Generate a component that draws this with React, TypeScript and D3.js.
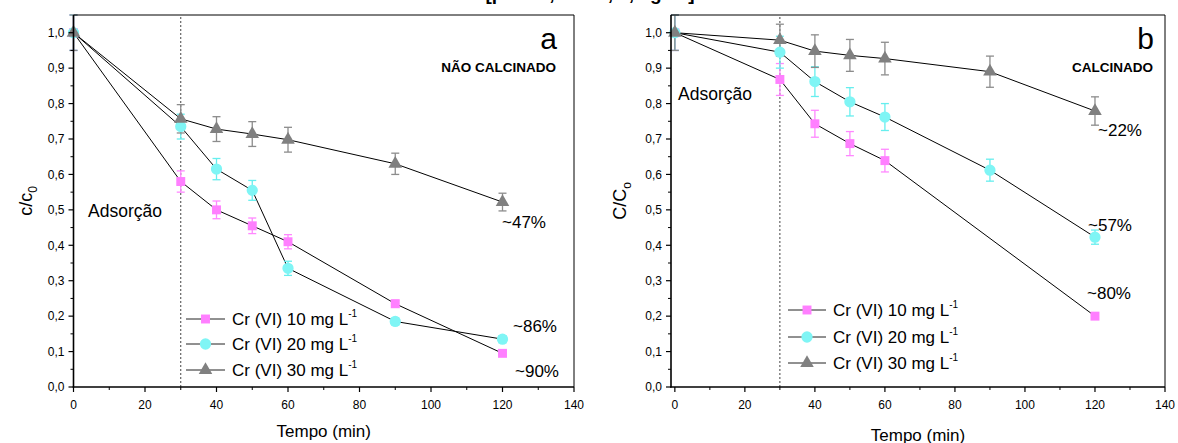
import React from "react";
import * as d3 from "d3";

// ---------- data ----------
const timesAll = [0, 30, 40, 50, 60, 90, 120];
const timesB10 = [0, 30, 40, 50, 60, 120];

// Panel a (NÃO CALCINADO)
const a10 = [1.0, 0.58, 0.5, 0.455, 0.41, 0.235, 0.095];
const a10Err = [0.05, 0.03, 0.025, 0.022, 0.02, 0.01, 0.008];
const a20 = [1.0, 0.735, 0.615, 0.555, 0.335, 0.185, 0.135];
const a20Err = [0.05, 0.035, 0.03, 0.028, 0.02, 0.01, 0.01];
const a30 = [1.0, 0.757, 0.728, 0.714, 0.698, 0.63, 0.522];
const a30Err = [0.05, 0.04, 0.035, 0.035, 0.035, 0.03, 0.025];

// Panel b (CALCINADO)
const b10 = [1.0, 0.868, 0.743, 0.687, 0.639, 0.2];
const b10Err = [0.05, 0.045, 0.038, 0.034, 0.032, 0.0];
const b20 = [1.0, 0.945, 0.862, 0.805, 0.762, 0.612, 0.423];
const b20Err = [0.05, 0.045, 0.042, 0.04, 0.038, 0.031, 0.02];
const b30 = [1.0, 0.979, 0.948, 0.936, 0.927, 0.89, 0.779];
const b30Err = [0.05, 0.045, 0.046, 0.045, 0.046, 0.044, 0.04];

const seriesNames = ["Cr (VI) 10 mg L", "Cr (VI) 20 mg L", "Cr (VI) 30 mg L"];
const xTicks = [0, 20, 40, 60, 80, 100, 120, 140];
const yTicks = [0, 0.1, 0.2, 0.3, 0.4, 0.5, 0.6, 0.7, 0.8, 0.9, 1.0];
const yTickLabels = ["0,0", "0,1", "0,2", "0,3", "0,4", "0,5", "0,6", "0,7", "0,8", "0,9", "1,0"];

const markerFill = ["#ff7fff", "#7ff5f5", "#808080"];
const errColor = ["#ff88ff", "#66eeee", "#8c8c8c"];
const symbols = [d3.symbolSquare, d3.symbolCircle, d3.symbolTriangle];
const symbolSizes = [80, 100, 80];
const FONT = "'Liberation Sans', Arial, Helvetica, sans-serif";

type Series = { t: number[]; v: number[]; e: number[] };

type PanelProps = {
  xRange: [number, number];
  xDomainMin: number;
  series: Series[];
  letter: string;
  label: string;
  labelInset: number;
  yTitleMain: string;
  yTitleSub: string;
  yTitleX: number;
  xTitleY: number;
  adsX: number;
  adsY: number;
  annots: { text: string; x: number; y: number }[];
  legend: { lx1: number; lx2: number; tx: number; ys: number[] };
};

const Y0 = 387;
const YTOP = 15;

function Panel(p: PanelProps) {
  const x = d3.scaleLinear().domain([p.xDomainMin, 140]).range(p.xRange);
  const y = d3.scaleLinear().domain([0, 1.05]).range([Y0, YTOP]);
  const left = x(p.xDomainMin);
  const right = x(140);
  const line = d3
    .line<[number, number]>()
    .x((d) => x(d[0]))
    .y((d) => y(d[1]));

  const minorX = d3.range(10, 140, 20);
  const minorY = d3.range(0.05, 1.05, 0.1);

  return (
    <g fontFamily={FONT}>
      {/* dashed 30 min line */}
      <line x1={x(30)} x2={x(30)} y1={Y0} y2={YTOP} stroke="#444" strokeWidth={1} strokeDasharray="2,2" />
      {/* series */}
      {p.series.map((s, si) => {
        const pts: [number, number][] = s.t.map((t, i) => [t, s.v[i]]);
        return (
          <g key={"l" + si}>
            <path d={line(pts) || ""} fill="none" stroke="#000" strokeWidth={1} />
          </g>
        );
      })}
      {p.series.map((s, si) => (
        <g key={"e" + si} stroke={errColor[si]} strokeWidth={1.3}>
          {s.t.map((t, i) =>
            s.e[i] > 0 ? (
              <g key={i}>
                <line x1={x(t)} x2={x(t)} y1={y(s.v[i] - s.e[i])} y2={y(s.v[i] + s.e[i])} />
                <line x1={x(t) - 4} x2={x(t) + 4} y1={y(s.v[i] - s.e[i])} y2={y(s.v[i] - s.e[i])} />
                <line x1={x(t) - 4} x2={x(t) + 4} y1={y(s.v[i] + s.e[i])} y2={y(s.v[i] + s.e[i])} />
              </g>
            ) : null
          )}
        </g>
      ))}
      {p.series.map((s, si) => {
        const sym = d3.symbol().type(symbols[si]).size(symbolSizes[si])();
        return (
          <g key={"m" + si}>
            {s.t.map((t, i) => (
              <path key={i} d={sym || ""} transform={`translate(${x(t)},${y(s.v[i])})`} fill={markerFill[si]} stroke="none" />
            ))}
          </g>
        );
      })}
      {/* frame */}
      <line x1={left} x2={right} y1={YTOP} y2={YTOP} stroke="#000" strokeWidth={1} />
      <line x1={right} x2={right} y1={YTOP} y2={Y0} stroke="#000" strokeWidth={1} />
      <line x1={left} x2={left} y1={YTOP} y2={Y0 + 0.5} stroke="#000" strokeWidth={1.6} />
      <line x1={left - 0.8} x2={right} y1={Y0} y2={Y0} stroke="#000" strokeWidth={1.6} />
      {/* x ticks */}
      {xTicks.map((t) => (
        <g key={"xt" + t}>
          <line x1={x(t)} x2={x(t)} y1={Y0} y2={Y0 + 5} stroke="#000" strokeWidth={1.2} />
          <text x={x(t)} y={Y0 + 22} fontSize={12} textAnchor="middle" fill="#000">
            {t}
          </text>
        </g>
      ))}
      {minorX.map((t) => (
        <line key={"xm" + t} x1={x(t)} x2={x(t)} y1={Y0} y2={Y0 + 3} stroke="#000" strokeWidth={1} />
      ))}
      {/* y ticks */}
      {yTicks.map((v, i) => (
        <g key={"yt" + i}>
          <line x1={left - 5} x2={left} y1={y(v)} y2={y(v)} stroke="#000" strokeWidth={1.2} />
          <text x={left - 9} y={y(v) + 4.3} fontSize={12} textAnchor="end" fill="#000">
            {yTickLabels[i]}
          </text>
        </g>
      ))}
      {minorY.map((v, i) => (
        <line key={"ym" + i} x1={left - 3} x2={left} y1={y(v)} y2={y(v)} stroke="#000" strokeWidth={1} />
      ))}
      {/* titles */}
      <text x={(left + right) / 2} y={p.xTitleY} fontSize={17} textAnchor="middle" fill="#000">
        Tempo (min)
      </text>
      <text transform={`translate(${p.yTitleX},${(Y0 + YTOP) / 2}) rotate(-90)`} fontSize={18} textAnchor="middle" fill="#000">
        {p.yTitleMain}
        <tspan fontSize={12} dy={5}>
          {p.yTitleSub}
        </tspan>
      </text>
      <text x={right - p.labelInset + 1} y={49} fontSize={30} textAnchor="end" fill="#000">
        {p.letter}
      </text>
      <text x={right - p.labelInset} y={72} fontSize={13.5} fontWeight="bold" textAnchor="end" fill="#000">
        {p.label}
      </text>
      <text x={p.adsX} y={p.adsY} fontSize={17.5} fill="#000">
        Adsorção
      </text>
      {p.annots.map((a, i) => (
        <text key={"an" + i} x={a.x} y={a.y} fontSize={17} fill="#000">
          {a.text}
        </text>
      ))}
      {/* legend */}
      {seriesNames.map((n, i) => {
        const ly = p.legend.ys[i];
        const sym = d3.symbol().type(symbols[i]).size(symbolSizes[i])();
        const mx = (p.legend.lx1 + p.legend.lx2) / 2;
        return (
          <g key={"lg" + i}>
            <line x1={p.legend.lx1} x2={p.legend.lx2} y1={ly} y2={ly} stroke="#222" strokeWidth={1} />
            <path d={sym || ""} transform={`translate(${mx},${ly})`} fill={markerFill[i]} />
            <text x={p.legend.tx} y={ly + 6} fontSize={17} fill="#000">
              {n}
              <tspan fontSize={10} dy={-8}>
                -1
              </tspan>
            </text>
          </g>
        );
      })}
    </g>
  );
}

export default function App() {
  const seriesA: Series[] = [
    { t: timesAll, v: a10, e: a10Err },
    { t: timesAll, v: a20, e: a20Err },
    { t: timesAll, v: a30, e: a30Err },
  ];
  const seriesB: Series[] = [
    { t: timesB10, v: b10, e: b10Err },
    { t: timesAll, v: b20, e: b20Err },
    { t: timesAll, v: b30, e: b30Err },
  ];
  return (
    <svg
      width={1178}
      height={443}
      viewBox="0 0 1178 443"
      style={{ position: "absolute", left: 0, top: 0, background: "#fff" }}
    >
      <rect x={0} y={0} width={1178} height={443} fill="#fff" />
      <text x={590} y={0} fontSize={19} fontWeight="bold" textAnchor="middle" fontFamily={FONT} fill="#000">
        [pH = 2, 25 °C, 1,0 g L
        <tspan fontSize={11} dy={-7}>-1</tspan>
        <tspan dy={7}>]</tspan>
      </text>
      <Panel
        xRange={[73.5, 574]}
        xDomainMin={0}
        series={seriesA}
        letter="a"
        label="NÃO CALCINADO"
        labelInset={18}
        yTitleMain="c/c"
        yTitleSub="0"
        yTitleX={32}
        xTitleY={437}
        adsX={88}
        adsY={217}
        annots={[
          { text: "~47%", x: 502, y: 228 },
          { text: "~86%", x: 513, y: 332 },
          { text: "~90%", x: 515, y: 377 },
        ]}
        legend={{ lx1: 186, lx2: 225, tx: 232, ys: [319, 344, 370] }}
      />
      <Panel
        xRange={[671, 1165]}
        xDomainMin={-1.1}
        series={seriesB}
        letter="b"
        label="CALCINADO"
        labelInset={12}
        yTitleMain="C/C"
        yTitleSub="o"
        yTitleX={626}
        xTitleY={441}
        adsX={678}
        adsY={100}
        annots={[
          { text: "~22%", x: 1098, y: 136 },
          { text: "~57%", x: 1088, y: 231 },
          { text: "~80%", x: 1087, y: 299 },
        ]}
        legend={{ lx1: 788, lx2: 826, tx: 833, ys: [310, 337, 363] }}
      />
    </svg>
  );
}
